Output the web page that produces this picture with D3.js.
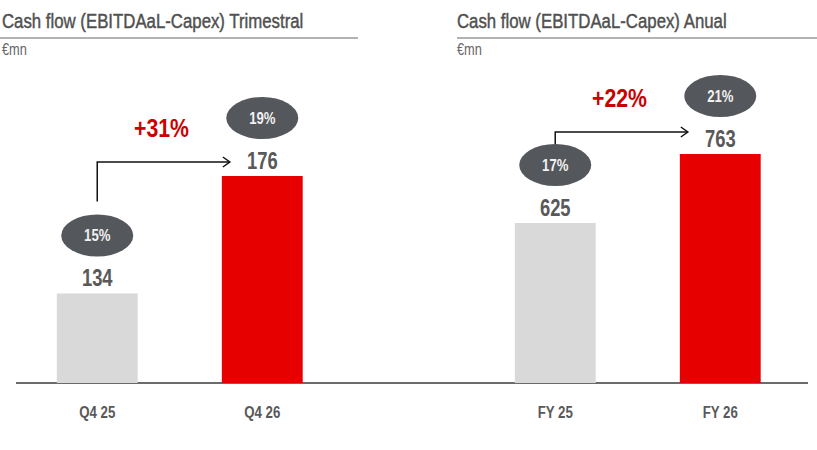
<!DOCTYPE html>
<html>
<head>
  <meta charset="utf-8">
  <title>cash flow</title>
  <style>
    body { margin: 0; background: #fff; }
    text { font-family: "Liberation Sans", Arial, sans-serif; }
  </style>
</head>
<body>
  <div id="chart"></div>
  <script src="https://cdn.jsdelivr.net/npm/d3@7"></script>
  <script>
  // datos
  var quarterCats = ["Q4 25", "Q4 26"];
  var quarterVals = [134, 176];
  var quarterMargins = ["15%", "19%"];
  var quarterGrowth = "+31%";

  var yearCats = ["FY 25", "FY 26"];
  var yearVals = [625, 763];
  var yearMargins = ["17%", "21%"];
  var yearGrowth = "+22%";

  var titles = ["Cash flow (EBITDAaL-Capex) Trimestral", "Cash flow (EBITDAaL-Capex) Anual"];
  var unit = "€mn";

  var W = 817, H = 450, base = 383;
  var svg = d3.select("#chart").append("svg")
    .attr("width", W).attr("height", H);

  // no hay fuente narrow instalada: se comprime en x
  function narrow(sel, sx, fx, fy){
    sel.attr("transform", function(d){
      return "translate(" + fx(d) + "," + fy(d) + ") scale(" + sx + ",1)";
    });
    return sel;
  }

  // eje comun
  svg.append("line")
    .attr("x1", 16).attr("x2", 808)
    .attr("y1", base).attr("y2", base)
    .attr("stroke", "#6b6b6b").attr("stroke-width", 2);

  var panels = [
    {cats: quarterCats, vals: quarterVals, marg: quarterMargins, growth: quarterGrowth, title: titles[0],
     range: [23.8, 335.7], domain: [102, 176], top: 176, tx: 2, lx0: 0, lx1: 358, arrowUp: 14, arrowGap: 13},
    {cats: yearCats, vals: yearVals, marg: yearMargins, growth: yearGrowth, title: titles[1],
     range: [481.8, 793.7], domain: [305, 763], top: 154, tx: 457, lx0: 457, lx1: 817, arrowUp: 22, arrowGap: 0}
  ];

  panels.forEach(function(p){
    var x = d3.scaleBand().domain(p.cats).range(p.range).paddingInner(0.51).paddingOuter(0.2);
    var y = d3.scaleLinear().domain(p.domain).range([base, p.top]);
    var data = p.cats.map(function(c, i){ return {cat: c, val: p.vals[i], m: p.marg[i], i: i}; });
    var cx = function(d){ return x(d.cat) + x.bandwidth()/2; };

    // titulo
    narrow(svg.append("text").datum(0), 0.8, function(){ return p.tx; }, function(){ return 28; })
      .attr("font-size", 21).attr("fill", "#505050")
      .attr("stroke", "#505050").attr("stroke-width", 0.45).text(p.title);
    svg.append("line").attr("x1", p.lx0).attr("x2", p.lx1).attr("y1", 38).attr("y2", 38)
      .attr("stroke", "#999").attr("stroke-width", 1.5);
    narrow(svg.append("text").datum(0), 0.8, function(){ return p.tx; }, function(){ return 55; })
      .attr("font-size", 16).attr("fill", "#666").text(unit);

    var g = svg.append("g");
    g.selectAll("rect").data(data).enter().append("rect")
      .attr("x", function(d){ return x(d.cat); })
      .attr("y", function(d){ return y(d.val); })
      .attr("width", x.bandwidth())
      .attr("height", function(d){ return base - y(d.val); })
      .attr("fill", function(d){ return d.i == 0 ? "#d9d9d9" : "#e60000"; });

    // valores
    narrow(g.selectAll(".val").data(data).enter().append("text"), 0.8, cx,
        function(d){ return y(d.val) - 7; })
      .attr("text-anchor", "middle").attr("font-size", 23).attr("font-weight", "bold")
      .attr("fill", "#595959").text(function(d){ return d.val; });

    // elipses de margen
    g.selectAll("ellipse").data(data).enter().append("ellipse")
      .attr("cx", cx)
      .attr("cy", function(d){ return y(d.val) - 58; })
      .attr("rx", 36).attr("ry", 21)
      .attr("fill", "#54575c");
    narrow(g.selectAll(".m").data(data).enter().append("text"), 0.82, cx,
        function(d){ return y(d.val) - 52; })
      .attr("text-anchor", "middle").attr("font-size", 16).attr("font-weight", "bold")
      .attr("fill", "#f2f2f2").text(function(d){ return d.m; });

    // categorias
    narrow(g.selectAll(".cat").data(data).enter().append("text"), 0.78, cx,
        function(){ return 418; })
      .attr("text-anchor", "middle").attr("font-size", 17).attr("font-weight", "bold")
      .attr("fill", "#595959").text(function(d){ return d.cat; });

    // flecha
    var ax = cx(data[0]);
    var ay0 = y(p.vals[0]) - 79 - p.arrowGap;
    var ay = y(p.vals[1]) - p.arrowUp;
    var ax1 = x(p.cats[1]) + 8;
    g.append("path")
      .attr("d", "M" + ax + "," + ay0 + "V" + ay + "H" + ax1)
      .attr("fill", "none").attr("stroke", "#111").attr("stroke-width", 1.5);
    g.append("path")
      .attr("d", "M" + (ax1 - 7) + "," + (ay - 5) + "L" + ax1 + "," + ay + "L" + (ax1 - 7) + "," + (ay + 5))
      .attr("fill", "none").attr("stroke", "#111").attr("stroke-width", 1.5);

    narrow(g.append("text").datum(0), 0.85, function(){ return (ax + ax1) / 2 - 2; },
        function(){ return ay - 25; })
      .attr("text-anchor", "middle").attr("font-size", 25).attr("font-weight", "bold")
      .attr("fill", "#cc0000").text(p.growth);
  });
  </script>
</body>
</html>
